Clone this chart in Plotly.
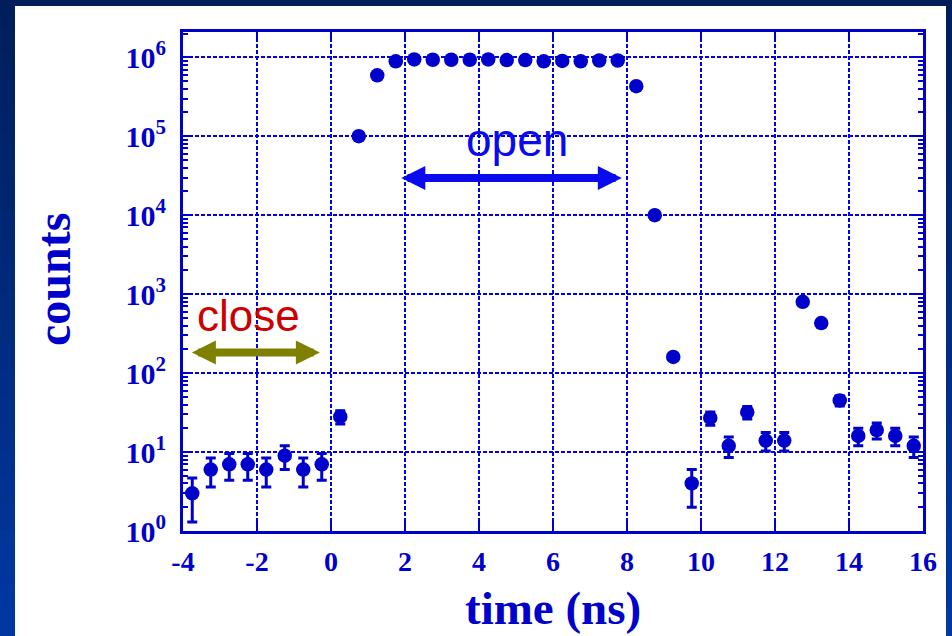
import plotly.graph_objects as go

# ---------------- data ----------------
time_ns = [-3.75, -3.25, -2.75, -2.25, -1.75, -1.25, -0.75, -0.25,
           0.25, 0.75, 1.25, 1.75, 2.25, 2.75, 3.25, 3.75, 4.25, 4.75,
           5.25, 5.75, 6.25, 6.75, 7.25, 7.75, 8.25, 8.75, 9.25, 9.75,
           10.25, 10.75, 11.25, 11.75, 12.25, 12.75, 13.25, 13.75,
           14.25, 14.75, 15.25, 15.75]
counts = [3, 6, 7, 7, 6, 9, 6, 7,
          28, 1.0e5, 5.9e5, 8.9e5, 9.4e5, 9.3e5, 9.3e5, 9.3e5, 9.4e5, 9.2e5,
          9.2e5, 8.9e5, 9.0e5, 8.9e5, 9.1e5, 9.1e5, 4.3e5, 1.0e4, 160, 4,
          27, 12, 32, 14, 14, 800, 430, 45,
          16, 19, 16, 12]
count_err = [1.7, 2.4, 2.6, 2.6, 2.4, 3.0, 2.4, 2.6,
             5.3, 316, 768, 943, 970, 964, 964, 964, 970, 959,
             959, 943, 949, 943, 954, 954, 656, 100, 12.6, 2.0,
             5.2, 3.5, 5.7, 3.7, 3.7, 28, 21, 6.7,
             4.0, 4.4, 4.0, 3.5]

x_ticks = [-4, -2, 0, 2, 4, 6, 8, 10, 12, 14, 16]
y_tick_exps = [0, 1, 2, 3, 4, 5, 6]
y_tick_labels = ["10<sup>%d</sup>" % e for e in y_tick_exps]

BLUE = "#0000CC"
GRID = "#0000E6"

fig = go.Figure()
fig.add_trace(go.Scatter(
    x=time_ns, y=counts, mode="markers",
    marker=dict(size=14.5, color=BLUE, line=dict(width=0)),
    error_y=dict(type="data", array=count_err, visible=True,
                 thickness=3, width=5, color=BLUE),
    showlegend=False, hoverinfo="skip"))

# ---------------- geometry helpers (paper coords) ----------------
L, R, T, B = 183, 923, 32, 531
W, H = 952, 636
def px(xp):
    return (xp - L) / (R - L)
def py(yp):
    return (B - yp) / (B - T)

shapes = []
# dark blue gradient background bands
top_c = (0x00, 0x1E, 0x5A)
bot_c = (0x00, 0x38, 0xA2)
nb = 24
for i in range(nb):
    f = i / (nb - 1)
    c = tuple(int(round(top_c[k] + (bot_c[k] - top_c[k]) * f)) for k in range(3))
    y0 = i * H / nb
    y1 = (i + 1) * H / nb + 1
    shapes.append(dict(type="rect", xref="paper", yref="paper",
                       x0=px(0), x1=px(W), y0=py(y1), y1=py(y0),
                       fillcolor="rgb(%d,%d,%d)" % c, line=dict(width=0),
                       layer="below"))
# white panel
shapes.append(dict(type="rect", xref="paper", yref="paper",
                   x0=px(15), x1=px(946), y0=py(H + 2), y1=py(6),
                   fillcolor="white", line=dict(width=0), layer="below"))

# minor log ticks
minor_vals = [m * 10 ** e for e in range(0, 7) for m in range(2, 10)]

def label(text, x, y, font, angle=0):
    return dict(text=text, xref="paper", yref="paper", x=px(x), y=py(y),
                xanchor="center", yanchor="middle", textangle=angle,
                showarrow=False, font=font)

annotations = [
    label("counts", 53, 280,
          dict(family="Liberation Serif", size=48, color=BLUE, weight="bold"), -90),
    label("time (ns)", 553, 608,
          dict(family="Liberation Serif", size=47, color=BLUE, weight="bold")),
    label("open", 517, 140,
          dict(family="Liberation Sans", size=46, color="#0A0AEE")),
    label("close", 248, 315,
          dict(family="Liberation Sans", size=44, color="#CC0000")),
    # open arrow
    dict(text="", x=7.86, y=4.47, ax=1.86, ay=4.47, xref="x", yref="y",
         axref="x", ayref="y", showarrow=True, arrowhead=2, startarrowhead=2,
         arrowside="end+start", arrowwidth=8, arrowsize=0.6, startarrowsize=0.6,
         arrowcolor="#0A0AEE", standoff=0, startstandoff=0),
    # close arrow
    dict(text="", x=-0.3, y=2.26, ax=-3.8, ay=2.26, xref="x", yref="y",
         axref="x", ayref="y", showarrow=True, arrowhead=2, startarrowhead=2,
         arrowside="end+start", arrowwidth=8, arrowsize=0.6, startarrowsize=0.6,
         arrowcolor="#808000", standoff=0, startstandoff=0),
]

fig.update_layout(
    width=W, height=H,
    margin=dict(l=L, r=W - R, t=T, b=H - B, pad=0),
    paper_bgcolor="#002266", plot_bgcolor="white",
    shapes=shapes, annotations=annotations,
    xaxis=dict(range=[-4, 16], tickmode="array", tickvals=x_ticks,
               ticktext=[str(v) for v in x_ticks],
               tickfont=dict(family="Liberation Serif", size=28, color=BLUE, weight="bold"),
               ticks="inside", ticklen=9, tickwidth=2, tickcolor=BLUE,
               showline=True, linecolor=BLUE, linewidth=3, mirror="ticks",
               showgrid=True, gridcolor=GRID, gridwidth=2, griddash="4px,2px",
               zeroline=False, ticklabelstandoff=3),
    yaxis=dict(type="log", range=[0, 6.32], tickmode="array",
               tickvals=[10 ** e for e in y_tick_exps], ticktext=y_tick_labels,
               tickfont=dict(family="Liberation Serif", size=30, color=BLUE, weight="bold"),
               ticks="inside", ticklen=10, tickwidth=2, tickcolor=BLUE,
               showline=True, linecolor=BLUE, linewidth=3, mirror="ticks",
               showgrid=True, gridcolor=GRID, gridwidth=2, griddash="4px,2px",
               zeroline=False, ticklabelstandoff=8,
               minor=dict(tickmode="array", tickvals=minor_vals, ticks="inside",
                          ticklen=5, tickwidth=2, tickcolor=BLUE, showgrid=False)),
)

fig.write_html("out.html", config={"displayModeBar": False},
               post_script="document.body.style.margin='0';"
                           "document.body.style.background='#002266';")
